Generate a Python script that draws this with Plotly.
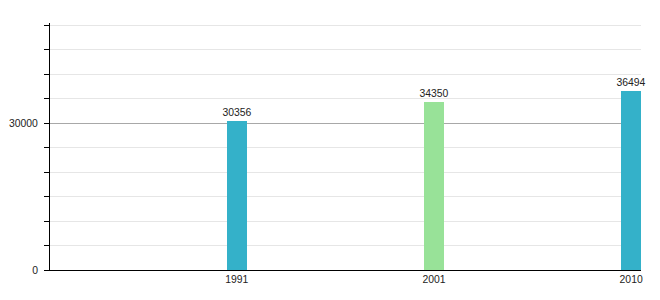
import plotly.graph_objects as go

years = ["1991", "2001", "2010"]
population = [30356, 34350, 36494]
bar_colors = ["#34b1c9", "#98e298", "#34b1c9"]

fig = go.Figure()
fig.add_trace(go.Bar(
    x=years,
    y=population,
    width=0.1,
    marker=dict(color=bar_colors, line=dict(width=0)),
    text=[str(v) for v in population],
    textposition="outside",
    constraintext="none",
    textfont=dict(size=10.4, color="#222"),
    outsidetextfont=dict(size=10.4, color="#222"),
    cliponaxis=False,
))

fig.update_layout(
    width=660,
    height=300,
    margin=dict(l=50, r=19, t=23, b=30, autoexpand=False),
    paper_bgcolor="white",
    plot_bgcolor="white",
    font=dict(family="Liberation Sans, Arial, sans-serif", size=10.4, color="#222"),
    showlegend=False,
    bargap=0,
)

fig.update_xaxes(
    type="category",
    range=[-0.947, 2.05],
    automargin=False,
    showline=True,
    linecolor="black",
    linewidth=1,
    ticks="",
    showgrid=False,
    zeroline=False,
    tickfont=dict(size=10.4, color="#222"),
    ticklabelstandoff=0,
)

fig.update_yaxes(
    range=[0, 50410],
    automargin=False,
    dtick=30000,
    tick0=0,
    tickformat="d",
    showline=True,
    linecolor="black",
    linewidth=1,
    ticks="outside",
    ticklen=5,
    tickcolor="black",
    showgrid=True,
    gridcolor="#a8a8a8",
    gridwidth=1,
    zeroline=False,
    tickfont=dict(size=10.4, color="#222"),
    ticklabelstandoff=4,
    minor=dict(
        dtick=5000,
        ticks="outside",
        ticklen=5,
        tickcolor="black",
        showgrid=True,
        gridcolor="#e6e6e6",
        gridwidth=1,
    ),
)

fig.write_html("out.html")
